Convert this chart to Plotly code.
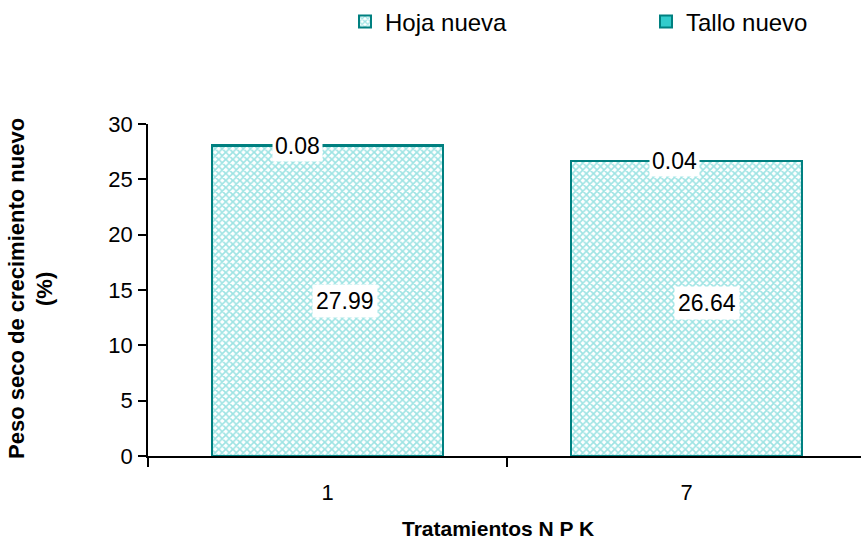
import plotly.graph_objects as go

# Tratamientos N P K y peso seco del crecimiento nuevo (%)
tratamientos = ["1", "7"]
hoja_nueva = [27.99, 26.64]
tallo_nuevo = [0.08, 0.04]

TEAL_DARK = "#008080"
TEAL_LIGHT = "#33CCCC"
FONT = "Liberation Sans, Arial, sans-serif"

fig = go.Figure()

fig.add_trace(go.Bar(
    name="Hoja nueva",
    x=tratamientos,
    y=hoja_nueva,
    width=0.646,
    marker=dict(
        color="white",
        line=dict(color=TEAL_DARK, width=2),
        pattern=dict(shape="x", size=5, fgcolor="#3cc8c8", bgcolor="white",
                     solidity=0.55, fillmode="overlay"),
    ),
))
fig.add_trace(go.Bar(
    name="Tallo nuevo",
    x=tratamientos,
    y=tallo_nuevo,
    width=0.646,
    marker=dict(color=TEAL_LIGHT, line=dict(color=TEAL_DARK, width=2)),
))

# value labels on white boxes (x given as category index); the leaf label sits a
# little right of centre and the stem label a little left, as the labels were placed
hoja_shift = [(17, 0), (20, 6)]
tallo_shift = [(-30, 0), (-12, 0)]
annotations = []
for i, (h, s) in enumerate(zip(hoja_nueva, tallo_nuevo)):
    annotations.append(dict(x=i, y=h / 2, text=f"{h:.2f}", showarrow=False,
                            xshift=hoja_shift[i][0], yshift=hoja_shift[i][1],
                            bgcolor="white", font=dict(size=23, color="black"),
                            borderpad=3))
    annotations.append(dict(x=i, y=h + s / 2, text=f"{s:.2f}", showarrow=False,
                            xshift=tallo_shift[i][0], yshift=tallo_shift[i][1],
                            bgcolor="white", font=dict(size=23, color="black"),
                            borderpad=2))

# axis titles (the y title as two rotated lines)
y_title_lines = [("Peso seco de crecimiento nuevo", 16), ("(%)", 44)]
for txt, xpx in y_title_lines:
    annotations.append(dict(
        text=f"<b>{txt}</b>",
        xref="paper", yref="paper", x=(xpx - 148) / 713, y=(456 - 289) / 332,
        xanchor="center", yanchor="middle", textangle=-90, showarrow=False,
        font=dict(size=22, color="black"),
    ))
annotations.append(dict(
    text="<b>Tratamientos N P K</b>",
    xref="paper", yref="paper", x=(498 - 148) / 713, y=(456 - 528) / 332,
    xanchor="center", yanchor="middle", showarrow=False,
    font=dict(size=21, color="black"),
))

W, H = 861, 540
L, R, T, B = 148, 0, 124, 84

fig.update_layout(
    width=W, height=H,
    margin=dict(l=L, r=R, t=T, b=B),
    paper_bgcolor="white",
    plot_bgcolor="white",
    barmode="stack",
    font=dict(family=FONT, size=22, color="black"),
    showlegend=True,
    legend=dict(
        orientation="h",
        x=345 / W, y=1 - 22 / H, xref="container", yref="container",
        xanchor="left", yanchor="middle",
        entrywidth=256,
        traceorder="normal",
        font=dict(size=24),
        bgcolor="rgba(0,0,0,0)",
    ),
    annotations=annotations,
)

fig.update_xaxes(
    type="category",
    range=[-0.5, 1.486],
    showline=True, linecolor="black", linewidth=1.5,
    ticks="outside", tickson="boundaries", ticklen=9, tickcolor="black", tickwidth=1.5,
    tickfont=dict(size=22),
    ticklabelstandoff=16,
    showgrid=False, zeroline=False,
)
fig.update_yaxes(
    range=[0, 30],
    tickvals=[0, 5, 10, 15, 20, 25, 30],
    showline=True, linecolor="black", linewidth=1.5,
    ticks="outside", ticklen=8, tickcolor="black", tickwidth=1.5,
    tickfont=dict(size=22),
    ticklabelstandoff=1,
    showgrid=False, zeroline=False,
)

fig.write_html("out.html")
